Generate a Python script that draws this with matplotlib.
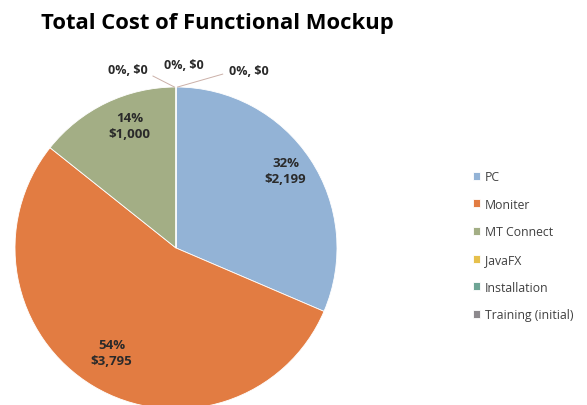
import numpy as np
import matplotlib.pyplot as plt

# slice data
items = ["PC", "Moniter", "MT Connect", "JavaFX", "Installation", "Training (initial)"]
costs = [2199, 3795, 1000, 0, 0, 0]
pct_labels = ["32%", "54%", "14%", "0%", "0%", "0%"]
cost_labels = ["$2,199", "$3,795", "$1,000", "$0", "$0", "$0"]
colors = ["#93b3d6", "#e27c42", "#a3ae85", "#e6c04c", "#6ea595", "#8c898d"]

plt.rcParams['font.family'] = ['Open Sans', 'DejaVu Sans']

fig = plt.figure(figsize=(5.87, 4.06), dpi=100)
fig.patch.set_facecolor("white")

# pie centre ~ (176, 249) px, radius ~161 px
W, H = 587, 406
cx, cy, r = 176, 249, 161
ax = fig.add_axes([(cx - r) / W, (H - cy - r) / H, 2 * r / W, 2 * r / H])

wedges, _ = ax.pie(costs, colors=colors, startangle=90, counterclock=False,
                   radius=1, wedgeprops=dict(linewidth=0.6, edgecolor="white"))
ax.set_xlim(-1, 1)
ax.set_ylim(-1, 1)
ax.set_aspect("equal")
ax.axis("off")

# labels on the big slices
big_pos = {0: (0.68, 0.48), 1: (-0.40, -0.65), 2: (-0.29, 0.76)}
for i, (x, y) in big_pos.items():
    ax.text(x, y, pct_labels[i] + "\n" + cost_labels[i], ha="center", va="center",
            fontsize=9.5, fontweight="bold", color="#2a2a2a", linespacing=1.3)

# zero slices get leader lines from the top of the pie
zero_pos = {3: (-0.30, 1.11), 4: (0.05, 1.14), 5: (0.45, 1.10)}
for i, (x, y) in zero_pos.items():
    ax.text(x, y, pct_labels[i] + ", " + cost_labels[i], ha="center", va="center",
            fontsize=9, fontweight="bold", color="#2a2a2a", clip_on=False)
ax.plot([-0.143, -0.01], [1.068, 1.0], color="#cbb0a8", lw=0.7, clip_on=False)
ax.plot([0.01, 0.29], [1.0, 1.08], color="#cbb0a8", lw=0.7, clip_on=False)

fig.text(217 / W, 1 - 24 / H, "Total Cost of Functional Mockup", ha="center", va="center",
         fontsize=15.8, fontweight="bold", color="black")

fig.legend(wedges, items, loc="upper left", bbox_to_anchor=(462 / W, 1 - 160 / H),
           frameon=False, fontsize=8.8, handlelength=0.6, handleheight=0.6,
           handletextpad=0.4, labelspacing=1.2, labelcolor="#404040")

fig.savefig("out.png", dpi=100)
